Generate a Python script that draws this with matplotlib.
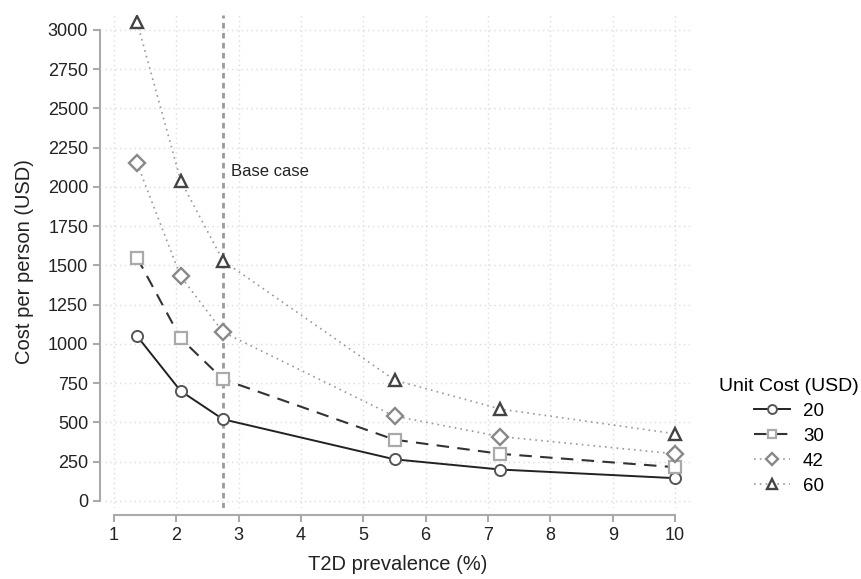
import matplotlib
matplotlib.use("Agg")
import matplotlib.pyplot as plt

plt.rcParams['font.family'] = ['Liberation Sans', 'DejaVu Sans']

prevalence = [1.37, 2.07, 2.75, 5.5, 7.2, 10.0]
unit_costs = ["20", "30", "42", "60"]
cost_20 = [1050, 700, 520, 265, 200, 145]
cost_30 = [1550, 1035, 775, 390, 300, 215]
cost_42 = [2150, 1430, 1075, 540, 410, 300]
cost_60 = [3050, 2040, 1530, 770, 585, 428]
base_case = 2.75
x_ticks = [1, 2, 3, 4, 5, 6, 7, 8, 9, 10]
y_ticks = list(range(0, 3001, 250))

W, H = 862, 579
fig = plt.figure(figsize=(W / 100, H / 100), dpi=100)
l, r, t, b = 105, 690, 15, 508
ax = fig.add_axes([l / W, 1 - b / H, (r - l) / W, (b - t) / H])

ax.set_xlim(0.856, 10.24)
ax.set_ylim(-45, 3095)

for xv in x_ticks:
    ax.axvline(xv, color='#dcdcdc', lw=1, ls=(0, (1, 2.5)), zorder=0)
for yv in y_ticks:
    ax.axhline(yv, color='#dcdcdc', lw=1, ls=(0, (1, 2.5)), zorder=0)

ax.axvline(base_case, color='#9a9a9a', lw=2, ls=(0, (2, 1.6)), zorder=1)
ax.text(2.87, 2096, "Base case", fontsize=12, color='#222222', va='center', ha='left')

series = [
    (cost_20, dict(color='#222222', ls='-', lw=1.4, marker='o', mec='#555555', mfc='white', ms=8, mew=1.4)),
    (cost_30, dict(color='#333333', ls=(0, (6, 4)), lw=1.5, marker='s', mec='#aaaaaa', mfc='white', ms=8, mew=1.6)),
    (cost_42, dict(color='#999999', ls=(0, (1, 2.5)), lw=1.2, marker='D', mec='#888888', mfc='white', ms=8, mew=1.7)),
    (cost_60, dict(color='#999999', ls=(0, (1, 2.5)), lw=1.2, marker='^', mec='#444444', mfc='white', ms=8.5, mew=1.7)),
]
handles = []
for (vals, st), lab in zip(series, unit_costs):
    h, = ax.plot(prevalence, vals, label=lab, zorder=3, **st)
    handles.append(h)

for side in ['top', 'right']:
    ax.spines[side].set_visible(False)
ax.spines['left'].set_position(('outward', 5 * 0.72))
ax.spines['bottom'].set_position(('outward', 7 * 0.72))
ax.spines['left'].set_bounds(0, 3000)
ax.spines['bottom'].set_bounds(1, 10)
for side in ['left', 'bottom']:
    ax.spines[side].set_color('#aaaaaa')
    ax.spines[side].set_linewidth(1.5)

ax.set_xticks(x_ticks)
ax.set_yticks(y_ticks)
ax.tick_params(axis='both', colors='#aaaaaa', labelcolor='#222222', length=5, width=1.5, labelsize=13)

ax.set_xlabel("T2D prevalence (%)", fontsize=14.5, color='#222222', labelpad=8)
ax.set_ylabel("Cost per person (USD)", fontsize=14.5, color='#222222', labelpad=10)

leg = fig.legend(handles=handles, labels=unit_costs, title="Unit Cost (USD)",
                 loc='upper right', bbox_to_anchor=(861 / W, 1 - 376 / H),
                 borderaxespad=0, borderpad=0.1,
                 frameon=False, fontsize=13.5, title_fontsize=14,
                 handlelength=1.9, handletextpad=0.7, labelspacing=0.42, markerscale=0.8)

fig.savefig("out.png", dpi=100)
